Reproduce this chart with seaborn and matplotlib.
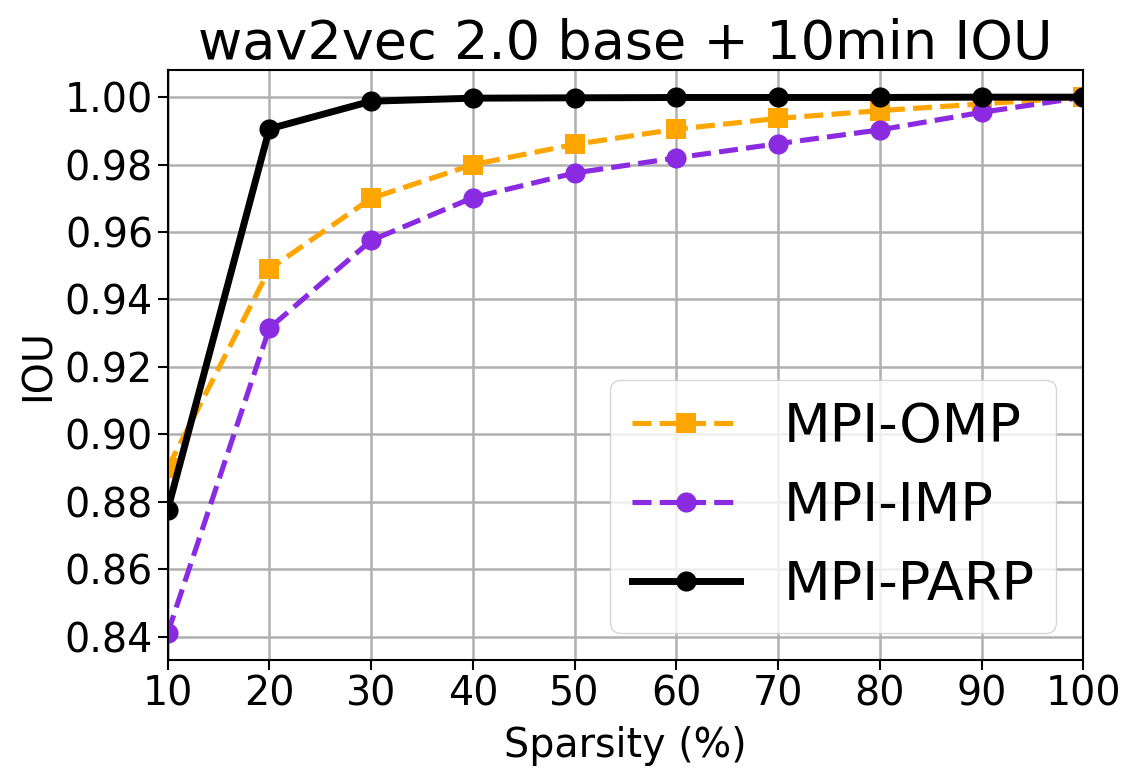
import numpy as np
import pandas as pd
import seaborn as sns
import matplotlib.pyplot as plt

sparsity = [10, 20, 30, 40, 50, 60, 70, 80, 90, 100]
iou_omp = [0.890, 0.949, 0.970, 0.980, 0.986, 0.9905, 0.9937, 0.996, 0.998, 1.000]
iou_imp = [0.841, 0.9315, 0.9575, 0.9702, 0.9775, 0.982, 0.9862, 0.9903, 0.9955, 1.000]
iou_parp = [0.8776, 0.9906, 0.9988, 0.9997, 0.9998, 0.9999, 0.9999, 0.9999, 1.000, 1.000]
y_ticks = [0.84, 0.86, 0.88, 0.90, 0.92, 0.94, 0.96, 0.98, 1.00]

plt.rcParams['font.family'] = ['DejaVu Sans']
fig, ax = plt.subplots(figsize=(11.25, 7.73), dpi=100)

sns.lineplot(x=sparsity, y=iou_omp, ax=ax, color='orange', linestyle='--', marker='s',
             markersize=14.5, linewidth=3.7, markeredgewidth=0, label='MPI-OMP')
sns.lineplot(x=sparsity, y=iou_imp, ax=ax, color='blueviolet', linestyle='--', marker='o',
             markersize=14.5, linewidth=3.7, markeredgewidth=0, label='MPI-IMP')
sns.lineplot(x=sparsity, y=iou_parp, ax=ax, color='black', linestyle='-', marker='o',
             markersize=14.5, linewidth=5, markeredgewidth=0, label='MPI-PARP')

ax.set_xlim(10, 100)
ax.set_xticks(sparsity)
ax.set_yticks(y_ticks)
ax.grid(True, color='#b0b0b0', linewidth=1.8)
ax.tick_params(labelsize=28.5, length=7, width=1.5)
for s in ax.spines.values():
    s.set_linewidth(1.5)
ax.set_xlabel('Sparsity (%)', fontsize=28.5, labelpad=8)
ax.set_ylabel('IOU', fontsize=28.5)
ax.set_title('wav2vec 2.0 base + 10min IOU', fontsize=39)
ax.yaxis.set_major_formatter(plt.FormatStrFormatter('%.2f'))
ax.legend(fontsize=39, loc='lower right')

plt.subplots_adjust(left=0.149, right=0.963, top=0.909, bottom=0.146)
plt.savefig('out.png', dpi=100)
